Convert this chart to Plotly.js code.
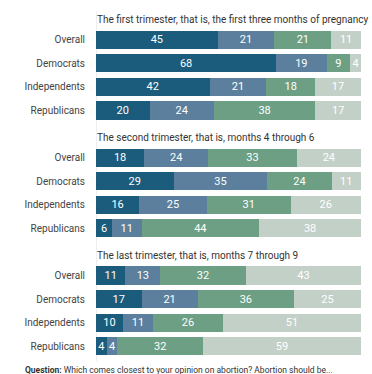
<!DOCTYPE html>
<html>
<head>
<meta charset="utf-8">
<script src="https://cdn.plot.ly/plotly-3.0.1.min.js"></script>
<style>html,body{margin:0;padding:0;background:#fff;}#chart{width:372px;height:374px;}</style>
</head>
<body>
<div id="chart"></div>
<script>
const groups = ["The first trimester, that is, the first three months of pregnancy",
                "The second trimester, that is, months 4 through 6",
                "The last trimester, that is, months 7 through 9"];
const rows = ["Overall", "Democrats", "Independents", "Republicans"];
const seriesColors = ["#1b5b7c", "#5b7f9c", "#6c9f83", "#c3d0c8"];
// values[group][series][row]
const first  = [[45, 68, 42, 20], [21, 19, 21, 24], [21, 9, 18, 38], [11, 4, 17, 17]];
const second = [[18, 29, 16, 6],  [24, 35, 25, 11], [33, 24, 31, 44], [24, 11, 26, 38]];
const last   = [[11, 17, 10, 4],  [13, 21, 11, 4],  [32, 36, 26, 32], [43, 25, 51, 59]];
const question = "<b>Question:</b> Which comes closest to your opinion on abortion? Abortion should be...";

const all = [first, second, last];
const slot = (g, r) => g * 5 + r;

const traces = [];
for (let s = 0; s < 4; s++) {
  const xs = [], ys = [], txt = [];
  all.forEach((grp, g) => {
    rows.forEach((_, r) => {
      xs.push(grp[s][r]);
      ys.push(slot(g, r));
      txt.push(String(grp[s][r]));
    });
  });
  traces.push({
    type: 'bar', orientation: 'h', x: xs, y: ys, text: txt,
    texttemplate: '%{text}', textposition: 'inside', insidetextanchor: 'middle',
    textangle: 0, constraintext: 'none',
    textfont: {family: 'Roboto, sans-serif', size: 11, color: '#ffffff'},
    marker: {color: seriesColors[s], line: {width: 0}},
    hoverinfo: 'skip', showlegend: false, cliponaxis: false
  });
}

const tickvals = [], ticktext = [];
all.forEach((_, g) => rows.forEach((name, r) => { tickvals.push(slot(g, r)); ticktext.push(name); }));

const annotations = groups.map((t, g) => ({
  text: t, xref: 'x', yref: 'y', x: 0, y: slot(g, 0), xanchor: 'left', yanchor: 'middle',
  xshift: -1, yshift: 20, showarrow: false, font: {family: 'Roboto, sans-serif', size: 10, color: '#333'}
}));
annotations.push({
  text: question, xref: 'paper', yref: 'paper', x: -0.275, y: 0, yshift: -12,
  xanchor: 'left', yanchor: 'middle', showarrow: false,
  font: {family: 'Roboto, sans-serif', size: 8.5, color: '#333'}
});

const layout = {
  width: 372, height: 374,
  margin: {l: 96, r: 11, t: 28, b: 16, pad: 0},
  barmode: 'stack', barnorm: 'percent', bargap: 0.235,
  paper_bgcolor: '#fff', plot_bgcolor: '#fff',
  uniformtext: {mode: 'show', minsize: 11},
  xaxis: {range: [0, 100.02], showgrid: false, zeroline: false, showticklabels: false, fixedrange: true},
  yaxis: {tickmode: 'array', tickvals: tickvals, ticktext: ticktext, range: [13.5, -0.5],
          showgrid: false, zeroline: false, ticks: 'outside', ticklen: 8, tickcolor: 'rgba(0,0,0,0)',
          tickfont: {family: 'Roboto, sans-serif', size: 10, color: '#444'}, automargin: false},
  shapes: [{type: 'line', xref: 'x', yref: 'paper', x0: 0, x1: 0, y0: -0.01, y1: 1.05,
            line: {color: '#dddddd', width: 1}, layer: 'below'}],
  annotations: annotations
};

Plotly.newPlot('chart', traces, layout, {displayModeBar: false, staticPlot: true});
</script>
</body>
</html>
